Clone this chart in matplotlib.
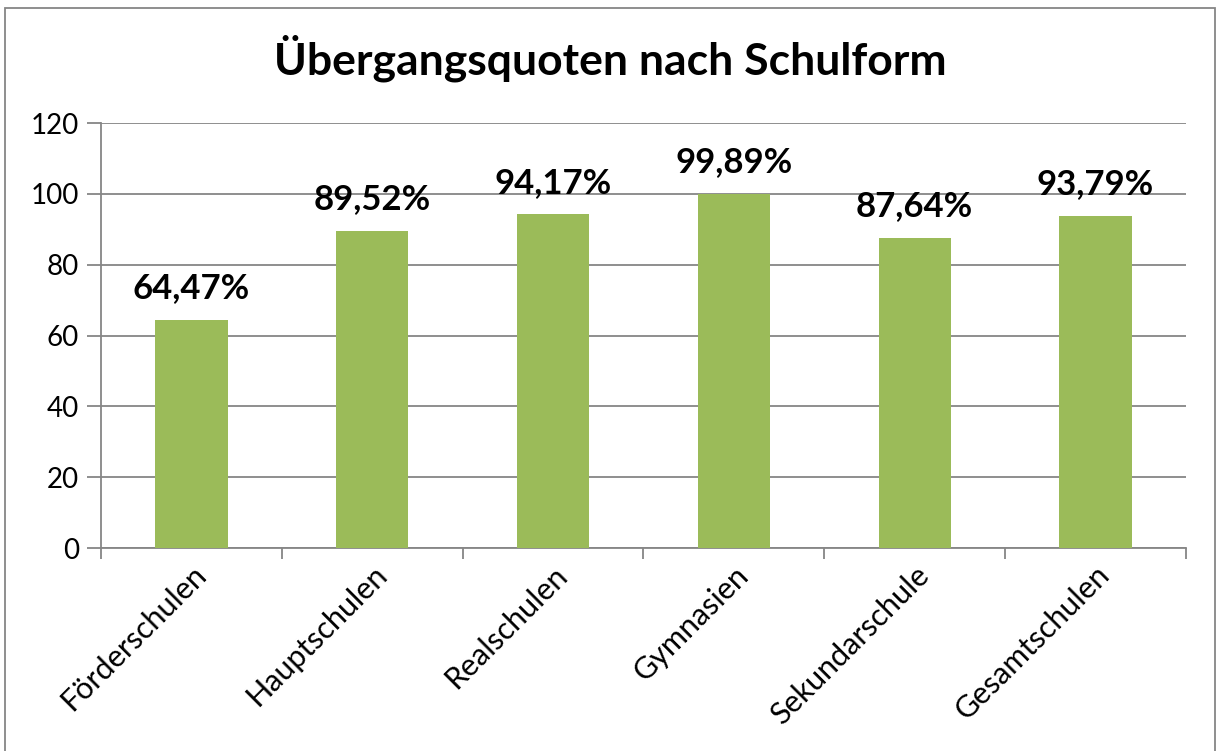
import matplotlib
matplotlib.use("Agg")
import matplotlib.pyplot as plt
from matplotlib.patches import Rectangle

schulformen = ["Förderschulen", "Hauptschulen", "Realschulen", "Gymnasien", "Sekundarschule", "Gesamtschulen"]
quoten = [64.47, 89.52, 94.17, 99.89, 87.64, 93.79]
labels = ["64,47%", "89,52%", "94,17%", "99,89%", "87,64%", "93,79%"]
yticks = [0, 20, 40, 60, 80, 100, 120]

plt.rcParams['font.family'] = ['Lato', 'DejaVu Sans']

fig = plt.figure(figsize=(12.21, 7.51), dpi=100)
ax = fig.add_axes([0.0827, 0.2703, 0.8886, 0.5659])

x = range(len(schulformen))
bars = ax.bar(x, quoten, width=0.4, color="#9BBB59", zorder=3)
for b, lab in zip(bars, labels):
    ax.text(b.get_x() + b.get_width() / 2, b.get_height() + 4.5, lab,
            ha="center", va="bottom", fontsize=25, fontweight="bold")

ax.set_xlim(-0.5, len(schulformen) - 0.5)
ax.set_ylim(0, 120)
ax.set_yticks(yticks)
ax.tick_params(axis="y", labelsize=20, length=10, color="#868686", width=1.3, pad=6)
ax.yaxis.grid(True, color="#868686", linewidth=1.3, zorder=0)

# category boundary ticks, labels in the middle
ax.set_xticks([i - 0.5 for i in range(len(schulformen) + 1)])
ax.set_xticklabels([])
ax.set_xticks(list(x), minor=True)
ax.set_xticklabels(schulformen, minor=True, rotation=45, ha="right",
                   rotation_mode="anchor", fontsize=22)
ax.tick_params(axis="x", which="major", length=8, color="#868686", width=1.3)
ax.tick_params(axis="x", which="minor", length=0, pad=9)

for s in ["top", "right"]:
    ax.spines[s].set_visible(False)
for s in ["left", "bottom"]:
    ax.spines[s].set_color("#868686")
    ax.spines[s].set_linewidth(1.3)

fig.text(0.5, 0.922, "Übergangsquoten nach Schulform", ha="center", va="center",
         fontsize=32, fontweight="bold")

fig.patches.append(Rectangle((5 / 1221, -0.01), 1210 / 1221, 1 - 8 / 751 + 0.01,
                             transform=fig.transFigure, fill=False,
                             edgecolor="#868686", linewidth=1.3))

fig.savefig("out.png", dpi=100)
